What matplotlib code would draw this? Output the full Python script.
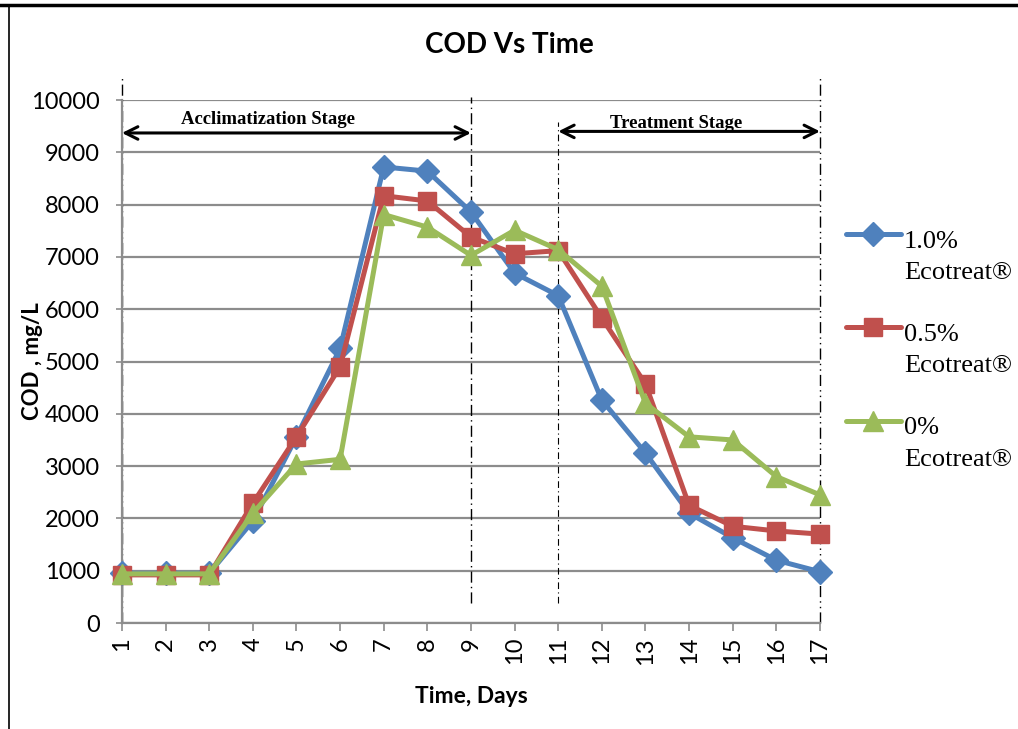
import matplotlib
matplotlib.use("Agg")
import matplotlib.pyplot as plt
from matplotlib.legend_handler import HandlerLine2D
from matplotlib.lines import Line2D

days = list(range(1, 18))
cod_1_0 = [950, 950, 950, 1950, 3560, 5250, 8720, 8640, 7860, 6690, 6260, 4260, 3250, 2100, 1630, 1200, 980]
cod_0_5 = [920, 920, 920, 2290, 3560, 4900, 8170, 8070, 7380, 7060, 7120, 5830, 4570, 2250, 1850, 1760, 1700]
cod_0_0 = [940, 940, 940, 2100, 3040, 3130, 7810, 7570, 7030, 7510, 7140, 6440, 4200, 3560, 3500, 2800, 2450]
series_labels = ["1.0%\nEcotreat®", "0.5%\nEcotreat®", "0%\nEcotreat®"]
yticks = list(range(0, 10001, 1000))

BLUE, RED, GREEN = "#4F81BD", "#C0504D", "#9BBB59"
GRID = "#8C8C8C"
SANS = ["Lato", "DejaVu Sans"]
SERIF = ["Liberation Serif", "DejaVu Serif"]

fig = plt.figure(figsize=(10.18, 7.29), dpi=100)
ax = fig.add_axes([0.1198, 0.1454, 0.6857, 0.7174])

styles = [(cod_1_0, BLUE, "D", 12), (cod_0_5, RED, "s", 13), (cod_0_0, GREEN, "^", 14)]
handles = []
for (vals, c, m, ms), lab in zip(styles, series_labels):
    h, = ax.plot(days, vals, color=c, marker=m, markersize=ms, lw=3.6,
                 label=lab, clip_on=False, zorder=3, solid_joinstyle="round",
                 solid_capstyle="round")
    handles.append(h)

ax.set_xlim(1, 17)
ax.set_ylim(0, 10000)
ax.set_xticks(days)
ax.set_xticklabels([str(d) for d in days], rotation=90, fontsize=17,
                   family=SANS)
ax.set_yticks(yticks)
ax.set_yticklabels([str(v) for v in yticks], fontsize=17, family=SANS)
ax.yaxis.grid(True, color=GRID, lw=1.6)
ax.set_axisbelow(True)
for s in ["top", "right"]:
    ax.spines[s].set_visible(False)
for s in ["left", "bottom"]:
    ax.spines[s].set_color(GRID)
    ax.spines[s].set_linewidth(1.6)
ax.tick_params(axis="y", color=GRID, width=1.2, length=4, pad=12)
ax.tick_params(axis="x", color=GRID, width=1.2, length=6, pad=4)

fig.text(0.5, 1 - 45 / 729, "COD Vs Time", ha="center", va="center", fontsize=20,
         fontweight="bold", family=SANS)
ax.set_xlabel("Time, Days", fontsize=16.5, fontweight="bold", family=SANS)
ax.set_ylabel("COD , mg/L", fontsize=16, fontweight="bold", family=SANS)
ax.xaxis.set_label_coords(0.5, -0.12)
ax.yaxis.set_label_coords(-0.113, 0.5)

# stage boundary lines
dd = (8, 3, 1, 3, 1, 3)
ax.plot([1, 1], [0, 10480], color="black", lw=1.0, dashes=dd, clip_on=False, zorder=2)
ax.plot([17, 17], [0, 10480], color="black", lw=1.0, dashes=dd, clip_on=False, zorder=2)
ax.plot([9, 9], [380, 10050], color="black", lw=1.0, dashes=(8, 3, 1, 3), clip_on=False, zorder=2)
ax.plot([11, 11], [380, 9580], color="black", lw=0.8, dashes=(6, 3, 1, 3), clip_on=False, zorder=2)

arrow = dict(arrowstyle="<->,head_length=0.9,head_width=0.45", color="black", lw=2.2,
             shrinkA=0, shrinkB=0)
ax.annotate("", xy=(9, 9370), xytext=(1, 9370), arrowprops=arrow, annotation_clip=False)
ax.annotate("", xy=(17, 9400), xytext=(11, 9400), arrowprops=arrow, annotation_clip=False)
ax.text(4.35, 9620, "Acclimatization Stage", ha="center", va="center", fontsize=13.5,
        fontweight="bold", family=SERIF)
ax.text(13.7, 9560, "Treatment Stage", ha="center", va="center", fontsize=13.5,
        fontweight="bold", family=SERIF)


class UpHandler(HandlerLine2D):
    def create_artists(self, legend, orig_handle, xdescent, ydescent, width, height,
                       fontsize, trans):
        return super().create_artists(legend, orig_handle, xdescent,
                                      ydescent - 1.7 * fontsize, width, height,
                                      fontsize, trans)


leg = fig.legend(handles=handles, loc="upper left", bbox_to_anchor=(0.8075, 0.716),
                 frameon=False, prop={"family": SERIF, "size": 19},
                 handlelength=2.1, handletextpad=0.1, labelspacing=1.5,
                 handler_map={h: UpHandler() for h in handles})
for t in leg.get_texts():
    t.set_linespacing(1.56)

# figure frame (top and left edges)
fig.add_artist(Line2D([0.0, 1.0], [0.9925, 0.9925], transform=fig.transFigure,
                      color="black", lw=2.5))
fig.add_artist(Line2D([0.0085, 0.0085], [0.0, 0.9925], transform=fig.transFigure,
                      color="black", lw=1.2))

fig.savefig("out.png", dpi=100)
